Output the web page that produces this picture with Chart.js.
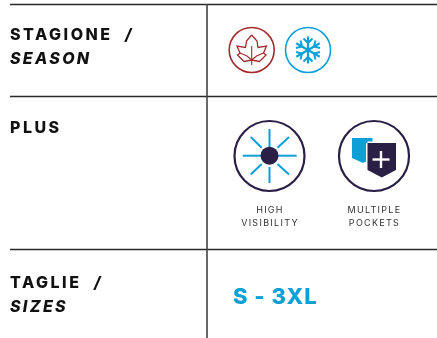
<!DOCTYPE html>
<html>
<head>
<meta charset="utf-8">
<title>Scheda prodotto</title>
<script src="https://cdn.jsdelivr.net/npm/chart.js@4"></script>
<style>
  html, body { margin: 0; padding: 0; background: #fff; }
  canvas { display: block; }
</style>
</head>
<body>
<canvas id="myChart" width="437" height="338"></canvas>
<script>
// text of the table
const row_titles = ["STAGIONE", "PLUS", "TAGLIE"];
const row_subtitles = ["SEASON", "SIZES"];
const title_slash = "/";
const feature_one = ["HIGH", "VISIBILITY"];
const feature_two = ["MULTIPLE", "POCKETS"];
const size_range = "S - 3XL";

// table rules, in picture units
const row_rules = [4.5, 96.5, 249.5];
const column_rule = [207];

// icon centres
const season_icons = [{ x: 251.7, y: 50 }, { x: 308, y: 50 }];
const plus_icons = [{ x: 269.5, y: 156 }, { x: 374, y: 156 }];

// leaf outline and veins
const leaf_outline = [
  [251.7, 35], [257, 41], [258, 47.5], [266.5, 46], [263.5, 53], [266, 55], [259.5, 61.5],
  [251.7, 60], [244, 61.5], [237.5, 55], [240, 53], [237, 46], [245.5, 47.5], [246.5, 41], [251.7, 35],
];
const leaf_veins = [
  [[251.7, 46], [251.7, 65]],
  [[251.7, 60], [247, 56], [240, 53]],
  [[251.7, 60], [256.5, 56], [263.5, 53]],
];

// snowflake arms and twigs
const snow_arms = [
  [[308, 36.5], [308, 63.5]],
  [[296.3, 43.2], [319.7, 56.8]],
  [[296.3, 56.8], [319.7, 43.2]],
];
const snow_twigs = [
  [[303.5, 38.5], [308, 43], [312.5, 38.5]],
  [[303.5, 61.5], [308, 57], [312.5, 61.5]],
  [[296, 48], [302, 46.5], [300.5, 40.5]],
  [[320, 52], [314, 53.5], [315.5, 59.5]],
  [[296, 52], [302, 53.5], [300.5, 59.5]],
  [[320, 48], [314, 46.5], [315.5, 40.5]],
];

// sun rays
const sun_rays = [
  [[269.5, 129], [269.5, 147]],
  [[269.5, 167], [269.5, 183]],
  [[242.7, 155.7], [262, 155.7]],
  [[278, 155.7], [296.7, 155.7]],
  [[250.7, 137], [261.7, 147.7]],
  [[277.5, 147.7], [289, 137]],
  [[250.7, 174.5], [261.7, 164]],
  [[277.5, 164], [289, 174.5]],
];

// pockets
const back_pocket = [[352, 138], [372.5, 138], [372.5, 158], [363, 163], [352, 158], [352, 138]];
const front_pocket = [[367.5, 143], [396, 143], [396, 170], [381.8, 177.5], [367.5, 170], [367.5, 143]];
const pocket_plus = [
  [[381, 151], [381, 168]],
  [[372.5, 159.5], [389.5, 159.5]],
];

const navy = "#2a2046";
const blue = "#0ca0d6";
const red = "#a52a2d";
const rule_colour = "#2a2a2a";

const toPoints = (list) => list.map((p) => ({ x: p[0], y: p[1] }));

// one line dataset from a list of [x, y]
const lineSet = (list, colour, width) => ({
  data: toPoints(list),
  showLine: true,
  pointRadius: 0,
  borderColor: colour,
  borderWidth: width,
  borderCapStyle: "butt",
  borderJoinStyle: "miter",
  fill: false,
});

// closed filled shape
const shapeSet = (list, colour) => ({
  ...lineSet(list, colour, 0),
  backgroundColor: colour,
  fill: "shape",
});

// ring or dot drawn as a point
const pointSet = (list, radius, colour, width, filled) => ({
  data: list,
  showLine: false,
  pointRadius: radius,
  pointHoverRadius: radius,
  pointBorderWidth: width,
  pointBorderColor: colour,
  pointBackgroundColor: filled ? colour : "transparent",
});

// layers in drawing order, bottom first
let layers = [];
row_rules.forEach((y) => layers.push(lineSet([[10, y], [437, y]], rule_colour, 1.3)));
column_rule.forEach((x) => layers.push(lineSet([[x, 4], [x, 338]], "#444444", 1.6)));

layers.push(pointSet([season_icons[0]], 22.5, red, 1.6, false));
layers.push(pointSet([season_icons[1]], 22.5, blue, 1.6, false));
layers.push(lineSet(leaf_outline, red, 1.3));
leaf_veins.forEach((v) => layers.push(lineSet(v, red, 1.1)));
snow_arms.forEach((a) => layers.push(lineSet(a, blue, 2.2)));
snow_twigs.forEach((t) => layers.push(lineSet(t, blue, 2)));

layers.push(pointSet(plus_icons, 35, navy, 2.2, false));
sun_rays.forEach((r) => layers.push(lineSet(r, blue, 2)));
layers.push(pointSet([{ x: 269.5, y: 155.7 }], 9, navy, 0, true));

layers.push(shapeSet(back_pocket, blue));
layers.push(lineSet(front_pocket, "#ffffff", 3));
layers.push(shapeSet(front_pocket, navy));
pocket_plus.forEach((p) => layers.push(lineSet(p, "#ffffff", 2.4)));

// the library paints the first dataset on top
layers.reverse();

// plugin for the table text
const tableText = {
  id: "tableText",
  afterDatasetsDraw(chart) {
    const ctx = chart.ctx;
    const sx = chart.scales.x;
    const sy = chart.scales.y;

    const put = (text, x, y, font, colour, spacing, align) => {
      ctx.save();
      ctx.font = font;
      ctx.fillStyle = colour;
      ctx.letterSpacing = spacing;
      ctx.textAlign = align;
      ctx.textBaseline = "alphabetic";
      ctx.fillText(text, sx.getPixelForValue(x), sy.getPixelForValue(y));
      ctx.restore();
    };

    const title = "800 16px Inter";
    const subtitle = "italic 800 16px Inter";
    const small = "9px Inter";

    put(row_titles[0], 10, 40, title, "#111111", "2.5px", "left");
    put(title_slash, 125, 40, subtitle, "#111111", "0px", "left");
    put(row_subtitles[0], 10, 64, subtitle, "#111111", "2.3px", "left");
    put(row_titles[1], 10, 133, title, "#111111", "2.5px", "left");
    put(row_titles[2], 10, 288, title, "#111111", "2.5px", "left");
    put(title_slash, 94, 288, subtitle, "#111111", "0px", "left");
    put(row_subtitles[1], 10, 312, subtitle, "#111111", "2.3px", "left");

    put(feature_one[0], 270, 213, small, "#333333", "1.3px", "center");
    put(feature_one[1], 270, 226, small, "#333333", "1.3px", "center");
    put(feature_two[0], 374.5, 213, small, "#333333", "1.3px", "center");
    put(feature_two[1], 374.5, 226, small, "#333333", "1.3px", "center");

    put(size_range, 233, 304, "800 22px Inter", blue, "1px", "left");
  },
};

new Chart(document.getElementById("myChart").getContext("2d"), {
  type: "scatter",
  data: { datasets: layers },
  options: {
    responsive: false,
    animation: false,
    events: [],
    layout: { padding: 0, autoPadding: false },
    scales: {
      x: { type: "linear", min: 0, max: 437, display: false },
      y: { type: "linear", min: 0, max: 338, reverse: true, display: false },
    },
    plugins: {
      legend: { display: false },
      tooltip: { enabled: false },
      title: { display: false },
    },
  },
  plugins: [tableText],
});
</script>
</body>
</html>
